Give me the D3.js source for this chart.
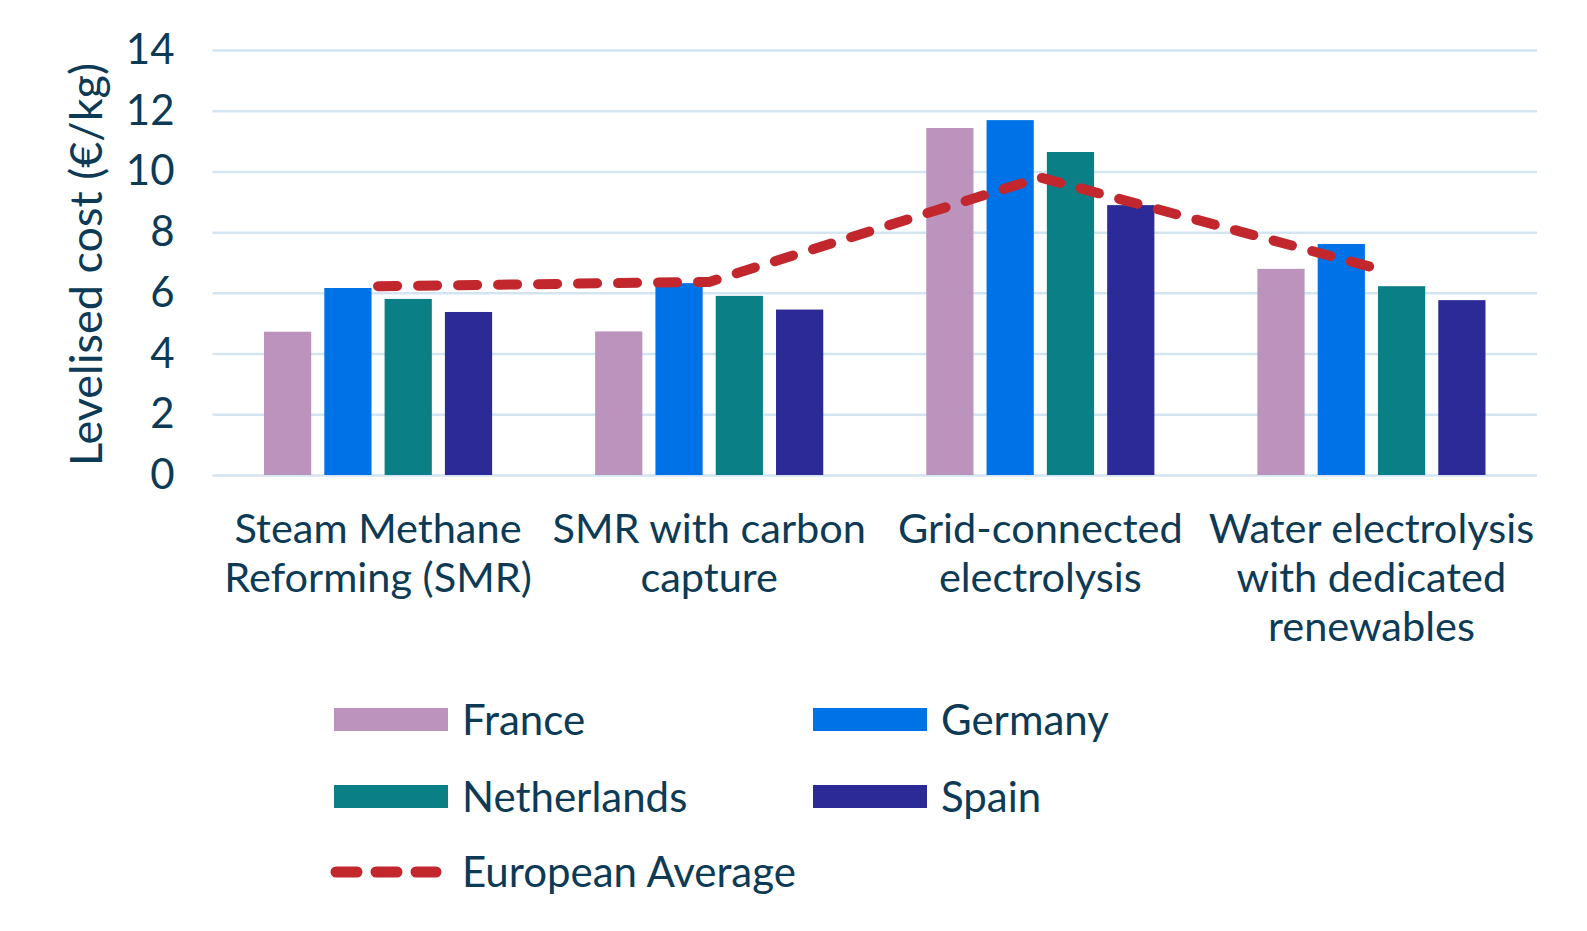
<!DOCTYPE html>
<html>
<head>
<meta charset="utf-8">
<script src="https://cdn.jsdelivr.net/npm/d3@7"></script>
<style>
  body { margin: 0; background: #fff; }
  text { font-family: Lato, "Open Sans", sans-serif; fill: #0d3a55; }
</style>
</head>
<body>
<div id="chart"></div>
<script>
const categories = [
  ["Steam Methane", "Reforming (SMR)"],
  ["SMR with carbon", "capture"],
  ["Grid-connected", "electrolysis"],
  ["Water electrolysis", "with dedicated", "renewables"]
];
const countries = ["France", "Germany", "Netherlands", "Spain"];
const france = [4.72, 4.73, 11.43, 6.79];
const germany = [6.16, 6.32, 11.69, 7.61];
const netherlands = [5.8, 5.9, 10.64, 6.22];
const spain = [5.37, 5.45, 8.89, 5.76];
const europeanAverage = [6.22, 6.36, 9.8, 6.85];
const yTicks = [0, 2, 4, 6, 8, 10, 12, 14];

const colors = ["#bb93bd", "#0072e8", "#0a7f86", "#2b2a96"];
const lineColor = "#c1272d";
const seriesValues = [france, germany, netherlands, spain];

const svgWidth = 1587;
const svgHeight = 931;
const margin = { top: 50, right: 50, bottom: 456, left: 212.5 };
const width = svgWidth - margin.left - margin.right;
const height = svgHeight - margin.top - margin.bottom;

const svg = d3
  .select("#chart")
  .append("svg")
  .attr("width", svgWidth)
  .attr("height", svgHeight);

const g = svg.append("g").attr("transform", `translate(${margin.left},${margin.top})`);

const x0 = d3.scaleBand().domain(d3.range(categories.length)).range([0, width]).padding(0);
const x1 = d3
  .scaleBand()
  .domain(countries)
  .range([51.5, x0.bandwidth() - 51.5])
  .paddingInner(0.217)
  .paddingOuter(0);
const y = d3.scaleLinear().domain([0, 14]).range([height, 0]);

// gridlines
const yAxis = g
  .append("g")
  .attr("class", "y-axis")
  .call(d3.axisLeft(y).tickValues(yTicks).tickSize(-width).tickPadding(38));
yAxis.select(".domain").remove();
yAxis.selectAll("line").attr("stroke", "#d3e5f1").attr("stroke-width", 2.5);
yAxis.selectAll("text").style("font-size", "42px").attr("fill", "#0d3a55");

// bars
const groups = g
  .selectAll(".cat")
  .data(categories)
  .enter()
  .append("g")
  .attr("class", "cat")
  .attr("transform", (d, i) => `translate(${x0(i)},0)`);

groups
  .selectAll("rect")
  .data((d, i) => countries.map((c, k) => ({ country: c, value: seriesValues[k][i], k })))
  .enter()
  .append("rect")
  .attr("x", (d) => x1(d.country))
  .attr("width", x1.bandwidth())
  .attr("y", (d) => y(d.value))
  .attr("height", (d) => height - y(d.value))
  .attr("fill", (d) => colors[d.k]);

// european average
const line = d3
  .line()
  .x((d, i) => x0(i) + x0.bandwidth() / 2)
  .y((d) => y(d));
g.append("path")
  .datum(europeanAverage)
  .attr("d", line)
  .attr("fill", "none")
  .attr("stroke", lineColor)
  .attr("stroke-width", 10)
  .attr("stroke-linecap", "round")
  .attr("stroke-linejoin", "round")
  .attr("stroke-dasharray", "19 21");

// category labels
const xLabels = g.append("g").attr("class", "x-axis");
categories.forEach((lines, i) => {
  const t = xLabels
    .append("text")
    .attr("text-anchor", "middle")
    .attr("x", x0(i) + x0.bandwidth() / 2)
    .attr("y", height + 68)
    .style("font-size", "41.5px");
  lines.forEach((s, j) => {
    t.append("tspan")
      .attr("x", x0(i) + x0.bandwidth() / 2)
      .attr("dy", j === 0 ? 0 : 49)
      .text(s);
  });
});

// y title
svg
  .append("text")
  .attr("transform", `translate(102,${margin.top + height / 2 + 2}) rotate(-90)`)
  .attr("text-anchor", "middle")
  .style("font-size", "45px")
  .text("Levelised cost (€/kg)");

// legend
const legend = svg.append("g").attr("class", "legend");
const legendPos = [
  { x: 334, y: 708 },
  { x: 813, y: 708 },
  { x: 334, y: 785 },
  { x: 813, y: 785 }
];
countries.forEach((c, k) => {
  const p = legendPos[k];
  legend.append("rect").attr("x", p.x).attr("y", p.y).attr("width", 114).attr("height", 23).attr("fill", colors[k]);
  legend
    .append("text")
    .attr("x", p.x + 128)
    .attr("y", p.y + 27)
    .style("font-size", "42px")
    .text(c);
});
legend
  .append("line")
  .attr("x1", 336)
  .attr("x2", 436)
  .attr("y1", 872)
  .attr("y2", 872)
  .attr("stroke", lineColor)
  .attr("stroke-width", 11)
  .attr("stroke-linecap", "round")
  .attr("stroke-dasharray", "21 19");
legend
  .append("text")
  .attr("x", 462)
  .attr("y", 887)
  .style("font-size", "42px")
  .text("European Average");
</script>
</body>
</html>
